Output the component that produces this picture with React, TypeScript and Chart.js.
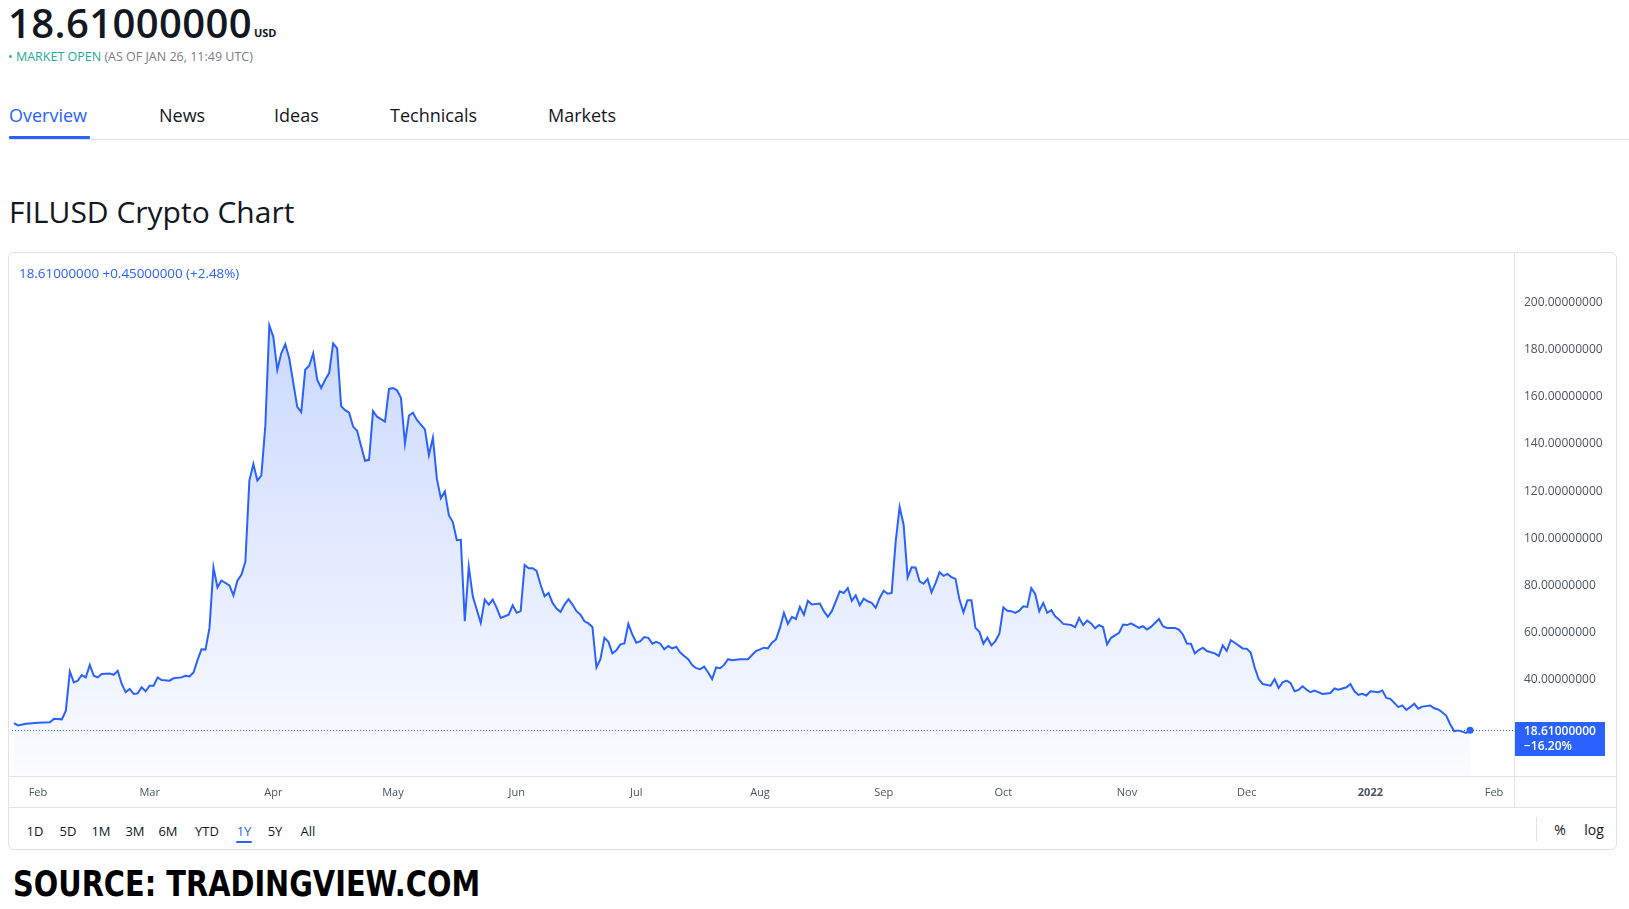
import React, { useEffect, useRef } from "react";
import { Chart, registerables } from "chart.js";

Chart.register(...registerables);

// Day index counted from Jan 26, 2021 (day 0) to Jan 26, 2022 (day 365)
const priceDays = [
  0, 1, 3, 6, 9, 10, 12, 13, 14, 15,
  16, 17, 18, 19, 20, 21, 22, 24, 25, 26,
  27, 28, 29, 30, 31, 32, 33, 34, 35, 36,
  37, 39, 40, 42, 43, 44, 45, 46, 47, 48,
  49, 50, 51, 52, 54, 55, 56, 57, 58, 59,
  60, 61, 62, 63, 64, 65, 66, 67, 68, 69,
  71, 72, 73, 74, 75, 76, 77, 78, 79, 80,
  81, 82, 83, 84, 85, 86, 87, 88, 89, 90,
  91, 93, 94, 95, 96, 97, 98, 99, 100, 101,
  103, 104, 105, 106, 107, 108, 109, 110, 111, 112,
  113, 114, 115, 117, 118, 119, 120, 121, 122, 124,
  125, 126, 127, 128, 129, 130, 131, 132, 133, 134,
  135, 136, 137, 138, 139, 140, 141, 142, 143, 144,
  145, 146, 147, 148, 149, 150, 151, 152, 153, 154,
  155, 156, 157, 158, 159, 160, 161, 162, 163, 164,
  165, 166, 167, 168, 169, 170, 171, 172, 173, 174,
  175, 176, 177, 178, 179, 180, 182, 184, 185, 186,
  188, 189, 190, 191, 192, 193, 194, 195, 196, 197,
  198, 199, 200, 202, 203, 204, 205, 206, 207, 208,
  209, 210, 211, 212, 213, 214, 215, 216, 217, 218,
  219, 220, 221, 222, 223, 224, 225, 226, 227, 228,
  229, 230, 231, 232, 233, 234, 235, 236, 237, 238,
  239, 240, 241, 242, 243, 244, 245, 246, 247, 248,
  249, 250, 251, 252, 253, 254, 255, 256, 257, 258,
  259, 260, 261, 262, 263, 265, 266, 267, 268, 269,
  270, 271, 272, 273, 274, 275, 277, 278, 279, 280,
  282, 283, 284, 285, 286, 287, 288, 289, 291, 292,
  293, 294, 295, 296, 297, 298, 299, 301, 302, 303,
  304, 305, 306, 308, 309, 310, 311, 312, 313, 315,
  316, 317, 318, 319, 320, 321, 322, 323, 324, 325,
  326, 328, 330, 331, 332, 333, 334, 335, 336, 337,
  338, 339, 340, 342, 343, 344, 345, 346, 347, 348,
  349, 350, 351, 352, 353, 355, 356, 357, 358, 359,
  360, 361, 362, 364, 365,
];

const priceValues = [
  21.6, 20.6, 21.3, 21.8, 22.0, 23.4, 23.2, 26.9, 43.5, 38.9,
  39.6, 42.0, 41.0, 46.3, 41.7, 41.0, 42.4, 42.6, 42.1, 43.8,
  38.2, 34.7, 36.1, 34.0, 34.2, 36.8, 35.1, 37.5, 37.5, 41.0,
  39.9, 39.6, 40.6, 41.0, 41.7, 41.4, 43.1, 48.3, 52.9, 52.8,
  62.0, 87.7, 79.2, 82.1, 80.0, 75.8, 82.0, 84.5, 90.1, 124.5,
  131.5, 124.5, 126.6, 147.7, 190.4, 185.5, 171.5, 178.5, 182.4, 176.4,
  155.8, 153.6, 171.5, 173.2, 178.5, 167.3, 163.8, 167.3, 170.1, 182.7,
  180.6, 156.1, 154.4, 153.3, 147.4, 145.6, 139.2, 132.9, 133.3, 154.0,
  151.6, 149.5, 163.4, 163.8, 162.8, 159.6, 140.2, 152.1, 153.3, 150.2,
  146.2, 135.3, 142.7, 125.2, 117.0, 119.9, 109.8, 106.9, 99.2, 99.4,
  64.8, 88.0, 75.4, 64.1, 74.0, 71.9, 74.0, 70.5, 66.2, 67.6,
  71.6, 68.4, 69.1, 88.7, 87.3, 87.3, 86.2, 80.3, 75.4, 76.8,
  72.6, 70.2, 68.8, 71.9, 74.2, 71.9, 69.1, 67.6, 64.8, 63.9,
  62.4, 45.2, 48.7, 57.8, 56.1, 51.2, 52.5, 55.0, 55.4, 63.7,
  59.2, 55.7, 56.4, 58.1, 57.8, 55.3, 56.1, 55.3, 52.9, 54.3,
  53.3, 54.0, 51.5, 50.1, 48.7, 46.2, 44.9, 44.5, 45.6, 43.1,
  40.3, 45.2, 44.9, 46.3, 48.7, 48.3, 48.7, 48.7, 50.5, 52.2,
  53.6, 53.3, 55.7, 57.1, 62.0, 68.4, 63.7, 66.7, 65.8, 70.9,
  67.6, 73.5, 71.9, 72.3, 69.1, 66.7, 69.1, 73.3, 77.5, 76.8,
  78.9, 73.5, 75.8, 71.6, 74.4, 73.3, 72.6, 70.5, 74.7, 77.8,
  76.5, 76.8, 98.5, 113.3, 105.8, 83.4, 87.7, 87.6, 81.7, 80.7,
  82.8, 77.1, 81.0, 85.6, 84.1, 84.9, 83.5, 82.8, 74.0, 68.6,
  73.7, 73.7, 62.0, 60.3, 55.3, 57.8, 54.6, 56.4, 59.5, 70.7,
  69.3, 69.1, 68.4, 69.3, 71.2, 70.9, 78.9, 76.3, 69.1, 72.6,
  68.4, 69.5, 66.9, 65.5, 63.7, 63.2, 62.3, 66.2, 63.2, 65.1,
  63.9, 61.8, 63.2, 62.3, 55.0, 57.8, 59.9, 63.4, 63.2, 63.9,
  62.0, 62.7, 61.3, 62.4, 64.1, 65.8, 62.7, 62.0, 62.0, 61.3,
  59.2, 55.4, 55.3, 51.2, 52.6, 53.6, 52.2, 51.2, 50.1, 54.6,
  52.2, 56.8, 55.7, 53.3, 53.2, 51.5, 45.2, 40.3, 38.2, 37.5,
  40.3, 36.5, 38.9, 39.6, 38.6, 35.1, 35.7, 37.2, 35.8, 34.7,
  35.4, 34.0, 34.4, 36.3, 35.8, 36.3, 36.8, 38.2, 35.1, 33.6,
  34.0, 33.3, 35.1, 34.7, 35.4, 32.3, 31.9, 30.2, 28.4, 29.1,
  27.2, 28.4, 29.8, 27.7, 28.6, 29.1, 27.9, 27.4, 26.2, 24.8,
  21.1, 18.2, 18.5, 17.4, 18.61,
];

const monthTickDays = [6, 34, 65, 95, 126, 156, 187, 218, 248, 279, 309, 340, 371];
const monthTickLabels = ["Feb", "Mar", "Apr", "May", "Jun", "Jul", "Aug", "Sep", "Oct", "Nov", "Dec", "2022", "Feb"];
const priceTickValues = [40, 60, 80, 100, 120, 140, 160, 180, 200];

const lastPriceText = "18.61000000";
const lastChangeText = "\u221216.20%";
const legendText = "18.61000000  +0.45000000 (+2.48%)";
const tabLabels = ["Overview", "News", "Ideas", "Technicals", "Markets"];
const rangeLabels = ["1D", "5D", "1M", "3M", "6M", "YTD", "1Y", "5Y", "All"];

const BLUE = "#2962ff";
const FONT = '"Open Sans", "Noto Sans", sans-serif';

const tabX = [9, 159, 274, 390, 548];
const rangeX = [35, 68, 101, 135, 168, 207, 244, 275, 308];

const priceLinePlugin = {
  id: "priceLine",
  beforeDatasetsDraw(chart: any) {
    const { ctx, chartArea, scales } = chart;
    const last = priceValues[priceValues.length - 1];
    const y = Math.round(scales.y.getPixelForValue(last)) + 0.5;
    ctx.save();
    ctx.strokeStyle = BLUE;
    ctx.lineWidth = 1;
    ctx.setLineDash([1, 2]);
    ctx.beginPath();
    ctx.moveTo(chartArea.left, y);
    ctx.lineTo(chartArea.right, y);
    ctx.stroke();
    ctx.restore();
  },
  afterDraw(chart: any) {
    const { ctx, chartArea, scales } = chart;
    const last = priceValues[priceValues.length - 1];
    const y = scales.y.getPixelForValue(last);
    const x0 = chartArea.right;
    ctx.save();
    ctx.fillStyle = BLUE;
    ctx.fillRect(x0, Math.round(y - 8), 91, 34);
    ctx.fillStyle = "#ffffff";
    ctx.font = `600 12px ${FONT}`;
    ctx.textAlign = "left";
    ctx.textBaseline = "middle";
    ctx.fillText(lastPriceText, x0 + 10, y + 1);
    ctx.fillText(lastChangeText, x0 + 10, y + 16);
    ctx.restore();
  },
};

function PriceChart() {
  const ref = useRef<HTMLCanvasElement | null>(null);
  useEffect(() => {
    const canvas = ref.current;
    if (!canvas) return;
    const lastIndex = priceValues.length - 1;
    const chart = new Chart(canvas, {
      type: "line",
      data: {
        datasets: [
          {
            data: priceDays.map((d, i) => ({ x: d, y: priceValues[i] })),
            borderColor: BLUE,
            borderWidth: 2,
            tension: 0,
            fill: "start",
            backgroundColor: (c: any) => {
              const area = c.chart.chartArea;
              if (!area) return "rgba(41,98,255,0.1)";
              const g = c.chart.ctx.createLinearGradient(0, area.top, 0, area.bottom);
              g.addColorStop(0, "rgba(41,98,255,0.28)");
              g.addColorStop(1, "rgba(41,98,255,0.02)");
              return g;
            },
            pointRadius: (c: any) => (c.dataIndex === lastIndex ? 3.5 : 0),
            pointBackgroundColor: BLUE,
            pointBorderWidth: 0,
          },
        ],
      },
      options: {
        animation: false,
        responsive: false,
        maintainAspectRatio: false,
        layout: { padding: 0 },
        plugins: { legend: { display: false }, tooltip: { enabled: false } },
        scales: {
          x: {
            type: "linear",
            min: -0.5,
            max: 376,
            grid: { display: false, drawTicks: false },
            border: { display: false },
            afterBuildTicks: (s: any) => {
              s.ticks = monthTickDays.map((v) => ({ value: v }));
            },
            afterFit: (s: any) => {
              s.height = 32;
              s.paddingLeft = 0;
              s.paddingRight = 0;
            },
            ticks: {
              autoSkip: false,
              maxRotation: 0,
              padding: 10,
              color: "#4c525e",
              font: (c: any) => ({
                family: FONT,
                size: 11,
                weight: c.tick && monthTickLabels[monthTickDays.indexOf(c.tick.value)] === "2022" ? "bold" : "normal",
              }),
              callback: (v: any) => {
                const i = monthTickDays.indexOf(v);
                return i >= 0 ? monthTickLabels[i] : "";
              },
            },
          },
          y: {
            position: "right",
            min: -0.84,
            max: 219.79,
            grid: { display: false, drawTicks: false },
            border: { display: false },
            afterBuildTicks: (s: any) => {
              s.ticks = priceTickValues.map((v) => ({ value: v }));
            },
            afterFit: (s: any) => {
              s.width = 104;
              s.paddingTop = 0;
              s.paddingBottom = 0;
            },
            ticks: {
              padding: 10,
              color: "#4c525e",
              font: { family: FONT, size: 12 },
              callback: (v: any) => Number(v).toFixed(8),
            },
          },
        },
      },
      plugins: [priceLinePlugin],
    } as any);
    return () => chart.destroy();
  }, []);
  return (
    <canvas
      ref={ref}
      width={1610}
      height={556}
      style={{ position: "absolute", left: 8, top: 252, width: 1610, height: 556 }}
    />
  );
}

export default function App() {
  const abs = (o: any): React.CSSProperties => ({ position: "absolute", whiteSpace: "nowrap", ...o });
  return (
    <div style={{ position: "absolute", left: 0, top: 0, width: 1629, height: 909, background: "#fff", fontFamily: FONT, color: "#131722", overflow: "hidden" }}>
      <div style={abs({ left: 8, top: 3, fontSize: 40, lineHeight: "40px", fontWeight: 600, letterSpacing: 0.4 })}>18.61000000</div>
      <div style={abs({ left: 254, top: 27, fontSize: 11, lineHeight: "12px", fontWeight: 700 })}>USD</div>
      <div style={abs({ left: 8, top: 50, fontSize: 12.5, lineHeight: "14px" })}>
        <span style={{ color: "#22ab94" }}>{"\u2022 MARKET OPEN"}</span>
        <span style={{ color: "#787b86" }}>{" (AS OF JAN 26, 11:49 UTC)"}</span>
      </div>

      {tabLabels.map((t, i) => (
        <div key={t} style={abs({ left: tabX[i], top: 105, fontSize: 18, lineHeight: "20px", color: i === 0 ? BLUE : "#131722" })}>{t}</div>
      ))}
      <div style={abs({ left: 8, top: 139, width: 1621, height: 1, background: "#e0e3eb" })} />
      <div style={abs({ left: 9, top: 136, width: 81, height: 3, background: BLUE, borderRadius: 1 })} />

      <div style={abs({ left: 9, top: 194, fontSize: 30, lineHeight: "36px" })}>FILUSD Crypto Chart</div>

      <div style={abs({ left: 8, top: 252, border: "1px solid #e0e3eb", borderRadius: 6, boxSizing: "border-box", width: 1609, height: 598 })} />
      <PriceChart />
      <div style={abs({ left: 8, top: 776, width: 1609, height: 1, background: "#e0e3eb" })} />
      <div style={abs({ left: 8, top: 807, width: 1609, height: 1, background: "#e0e3eb" })} />
      <div style={abs({ left: 1514, top: 252, width: 1, height: 556, background: "#e0e3eb" })} />
      <div style={abs({ left: 1536, top: 817, width: 1, height: 25, background: "#e0e3eb" })} />

      <div style={abs({ left: 19, top: 265, fontSize: 13.4, lineHeight: "16px", color: BLUE })}>{legendText}</div>

      {rangeLabels.map((t, i) => (
        <div key={t} style={abs({ left: rangeX[i], top: 823, transform: "translateX(-50%)", fontSize: 13, lineHeight: "16px", color: t === "1Y" ? BLUE : "#131722" })}>{t}</div>
      ))}
      <div style={abs({ left: 236, top: 841, width: 16, height: 2, background: BLUE, borderRadius: 1 })} />
      <div style={abs({ left: 1560, top: 822, transform: "translateX(-50%)", fontSize: 14, lineHeight: "16px" })}>%</div>
      <div style={abs({ left: 1594, top: 822, transform: "translateX(-50%)", fontSize: 14, lineHeight: "16px" })}>log</div>

      <div style={abs({ left: 13, top: 864, fontSize: 36, lineHeight: "40px", fontWeight: 700, fontFamily: '"Liberation Sans Narrow", "DejaVu Sans Condensed", "Liberation Sans", sans-serif', fontStretch: "condensed", color: "#000", transform: "scaleX(0.89)", transformOrigin: "0 0" })}>SOURCE: TRADINGVIEW.COM</div>
    </div>
  );
}
